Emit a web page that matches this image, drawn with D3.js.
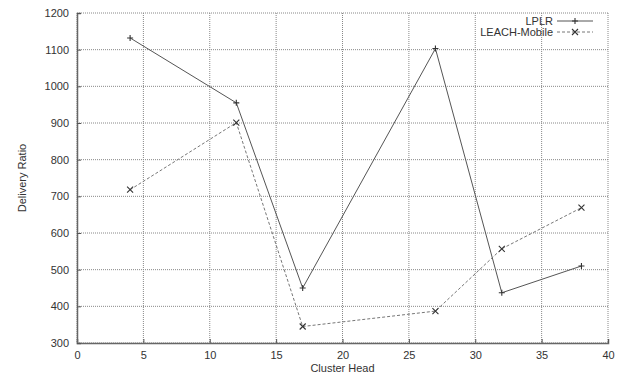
<!DOCTYPE html>
<html>
<head>
<meta charset="utf-8">
<script src="https://cdn.jsdelivr.net/npm/d3@7"></script>
<style>
  body { margin: 0; background: #fff; }
  text { font-family: "Liberation Sans", Arial, sans-serif; fill: #333; }
</style>
</head>
<body>
<div id="chart"></div>
<script>
// chart data
const clusterHeads = [4, 12, 17, 27, 32, 38];
const lplr = [1132, 955, 450, 1103, 437, 510];
const leachMobile = [718, 901, 345, 387, 557, 669];
const xTicks = [0, 5, 10, 15, 20, 25, 30, 35, 40];
const yTicks = [300, 400, 500, 600, 700, 800, 900, 1000, 1100, 1200];

const W = 623, H = 376;
const margin = { top: 13, right: 15, bottom: 33, left: 77 };
const width = W - margin.left - margin.right;
const height = H - margin.top - margin.bottom;

const svg = d3.select('#chart').append('svg')
  .attr('width', W)
  .attr('height', H);

const g = svg.append('g')
  .attr('transform', `translate(${margin.left},${margin.top})`);

const x = d3.scaleLinear().domain([0, 40]).range([0, width]);
const y = d3.scaleLinear().domain([300, 1200]).range([height, 0]);

// grid
g.selectAll('.vgrid').data(xTicks).enter().append('line')
  .attr('x1', d => x(d)).attr('x2', d => x(d))
  .attr('y1', 0).attr('y2', height)
  .attr('stroke', '#888').attr('stroke-width', 1)
  .attr('stroke-dasharray', '1,1');
g.selectAll('.hgrid').data(yTicks).enter().append('line')
  .attr('x1', 0).attr('x2', width)
  .attr('y1', d => y(d)).attr('y2', d => y(d))
  .attr('stroke', '#888').attr('stroke-width', 1)
  .attr('stroke-dasharray', '1,1');

// axes
const xAxis = d3.axisBottom(x).tickValues(xTicks).tickFormat(d3.format('d')).tickSize(-4).tickPadding(8);
const yAxis = d3.axisLeft(y).tickValues(yTicks).tickFormat(d3.format('d')).tickSize(-4).tickPadding(8);

g.append('g')
  .attr('transform', `translate(0,${height})`)
  .call(xAxis)
  .call(a => a.select('.domain').attr('stroke', '#666').attr('stroke-width', 1.5))
  .call(a => a.selectAll('.tick line').attr('stroke', '#555'))
  .call(a => a.selectAll('text').style('font-size', '11px').attr('fill', '#333'));

g.append('g')
  .call(yAxis)
  .call(a => a.select('.domain').attr('stroke', '#666').attr('stroke-width', 1.5))
  .call(a => a.selectAll('.tick line').attr('stroke', '#555'))
  .call(a => a.selectAll('text').style('font-size', '11px').attr('fill', '#333'));

// axis labels
svg.append('text')
  .attr('x', margin.left + width / 2)
  .attr('y', 372)
  .attr('text-anchor', 'middle')
  .style('font-size', '11px')
  .text('Cluster Head');

svg.append('text')
  .attr('transform', `translate(26,${margin.top + height / 2}) rotate(-90)`)
  .attr('text-anchor', 'middle')
  .style('font-size', '11px')
  .text('Delivery Ratio');

// series
const series = [
  { name: 'LPLR', values: lplr, dash: null, color: '#555', marker: 'plus' },
  { name: 'LEACH-Mobile', values: leachMobile, dash: '3,2', color: '#777', marker: 'cross' }
];

const line = d3.line()
  .x(d => x(d[0]))
  .y(d => y(d[1]));

function drawMarker(sel, type, color) {
  const s = 3;
  if (type === 'plus') {
    sel.append('path').attr('d', `M${-s},0H${s}M0,${-s}V${s}`);
  } else {
    sel.append('path').attr('d', `M${-s},${-s}L${s},${s}M${-s},${s}L${s},${-s}`);
  }
  sel.select('path').attr('stroke', color).attr('stroke-width', 1.1).attr('fill', 'none');
}

series.forEach(s => {
  const pts = clusterHeads.map((c, i) => [c, s.values[i]]);
  g.append('path')
    .datum(pts)
    .attr('d', line)
    .attr('fill', 'none')
    .attr('stroke', s.color)
    .attr('stroke-width', 1)
    .attr('stroke-dasharray', s.dash);
  g.selectAll(null).data(pts).enter().append('g')
    .attr('transform', d => `translate(${x(d[0])},${y(d[1])})`)
    .each(function () { drawMarker(d3.select(this), s.marker, '#333'); });
});

// legend
const legend = svg.append('g').attr('transform', 'translate(553,21)');
series.forEach((s, i) => {
  const row = legend.append('g').attr('transform', `translate(0,${i * 11})`);
  row.append('text')
    .attr('x', 0).attr('y', 4)
    .attr('text-anchor', 'end')
    .style('font-size', '11px')
    .text(s.name);
  row.append('line')
    .attr('x1', 4).attr('x2', 40).attr('y1', 0).attr('y2', 0)
    .attr('stroke', s.color).attr('stroke-width', 1)
    .attr('stroke-dasharray', s.dash);
  const m = row.append('g').attr('transform', 'translate(22,0)');
  drawMarker(m, s.marker, '#333');
});
</script>
</body>
</html>
